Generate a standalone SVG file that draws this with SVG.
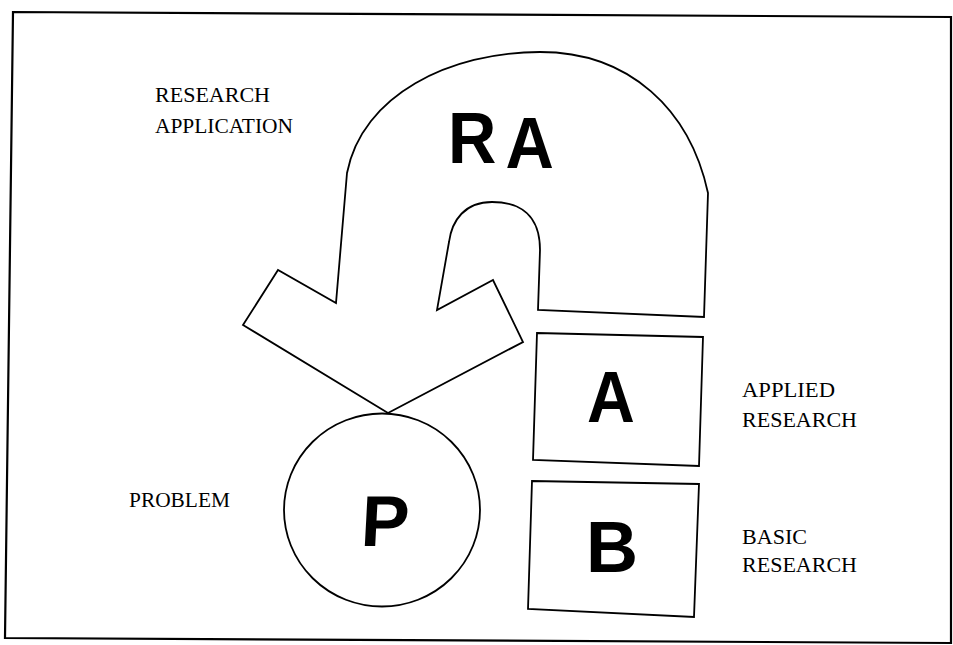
<svg xmlns="http://www.w3.org/2000/svg" width="953" height="645" viewBox="0 0 953 645">
<style>
.ln{fill:#fff;stroke:#000;stroke-width:1.8;stroke-linejoin:miter}
.big{font-family:"Liberation Sans",Arial,sans-serif;font-weight:bold;font-size:72px;fill:#000}
.lbl{font-family:"Liberation Serif","Times New Roman",serif;font-size:22px;fill:#000}
</style>
<rect width="953" height="645" fill="#fff"/>
<polygon id="frame" points="13,12 951,17 951,643 5,638" fill="none" stroke="#000" stroke-width="2.2"/>
<g id="connectors"/>
<g id="RA">
<path class="ln" d="M347,173 C362,95 450,52 540,52 C630,52 690,110 708,193 L704,317 L538,310 L540,250 C540,215 520,202 492,202 C465,202 452,220 449,242 L437,310 L493,280 L523,342 L388,413 L243,325 L278,270 L336,303 Z"/>
<text class="big" transform="translate(500 0) scale(0.93 1) translate(-500 0)"><tspan x="444" y="163">R</tspan> <tspan x="506" y="168">A</tspan></text>
<text class="lbl" textLength="115" lengthAdjust="spacingAndGlyphs" x="155" y="102">RESEARCH</text>
<text class="lbl" textLength="138" lengthAdjust="spacingAndGlyphs" x="155" y="133">APPLICATION</text>
</g>
<g id="A">
<polygon class="ln" points="537,333 703,337 699,466 533,460"/>
<text class="big" x="611" y="422" text-anchor="middle" transform="translate(611 0) scale(0.92 1) translate(-611 0)">A</text>
<text class="lbl" textLength="93" lengthAdjust="spacingAndGlyphs" x="742" y="397">APPLIED</text>
<text class="lbl" textLength="115" lengthAdjust="spacingAndGlyphs" x="742" y="427">RESEARCH</text>
</g>
<g id="B">
<polygon class="ln" points="532,481 699,484 694,617 528,609"/>
<text class="big" x="612" y="572" text-anchor="middle">B</text>
<text class="lbl" textLength="65" lengthAdjust="spacingAndGlyphs" x="742" y="544">BASIC</text>
<text class="lbl" textLength="115" lengthAdjust="spacingAndGlyphs" x="742" y="572">RESEARCH</text>
</g>
<g id="P">
<ellipse class="ln" cx="382" cy="510" rx="98" ry="96.5"/>
<text class="big" x="384" y="546" text-anchor="middle" transform="translate(384 546) skewX(-3) translate(-384 -546)">P</text>
<text class="lbl" textLength="101" lengthAdjust="spacingAndGlyphs" x="129" y="507">PROBLEM</text>
</g>
</svg>
